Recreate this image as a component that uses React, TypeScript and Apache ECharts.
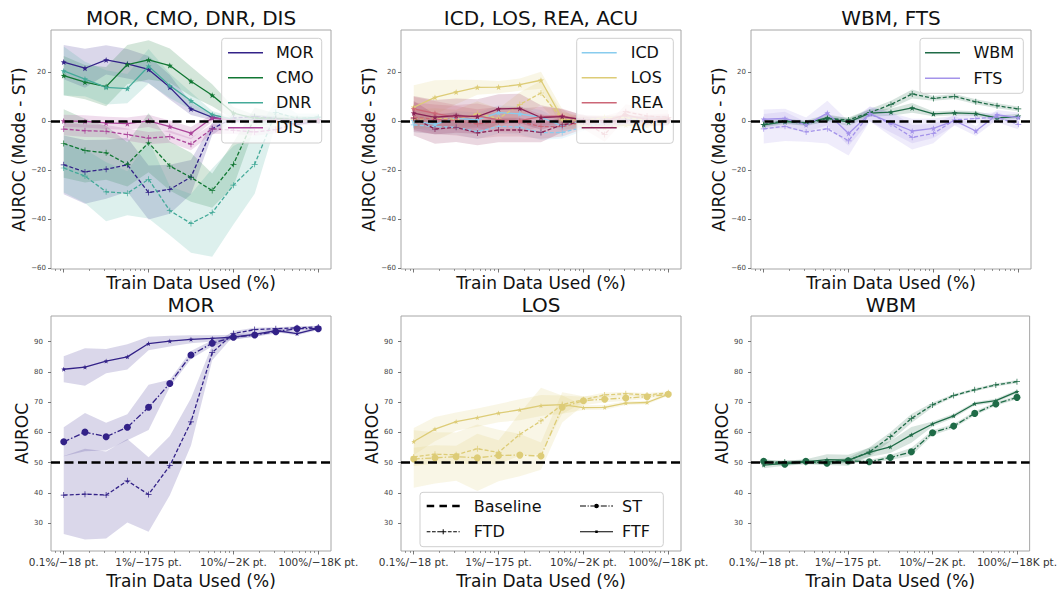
import { useEffect, useRef } from "react";
import * as echarts from "echarts";

// ---------- data ----------
const trainPct = [0.1, 0.178, 0.316, 0.562, 1, 1.78, 3.16, 5.62, 10, 17.8, 31.6, 56.2, 100];
const majorTickPct = [0.1, 1, 10, 100];
const majorTickLabels = ["0.1%/−18 pt.", "1%/−175 pt.", "10%/−2K pt.", "100%/−18K pt."];
const minorTickPct = [0.08, 0.09, 0.2, 0.3, 0.4, 0.5, 0.6, 0.7, 0.8, 0.9, 2, 3, 4, 5, 6, 7, 8, 9, 20, 30, 40, 50, 60, 70, 80, 90];
const diffTicks = [-60, -40, -20, 0, 20];
const aurocTicks = [30, 40, 50, 60, 70, 80, 90];

// top row: AUROC difference (Mode - ST), FTF = solid, FTD = dashed
const morFtfDiff = [24.0, 21.5, 24.9, 23.3, 21.0, 13.7, 4.9, 1.5, 0.0, 0.3, 0.4, -1.5, 0.1];
const morFtfDiffErr = [7, 8, 6, 6, 5.5, 5, 2.5, 1.2, 0.8, 0.8, 0.8, 0.8, 0.6];
const morFtdDiff = [-17.9, -20.8, -19.7, -17.9, -29.2, -27.9, -22.9, -3.2, 1.2, 1.8, 1.0, 0.3, 0.6];
const morFtdDiffErr = [12, 13, 12, 11, 11, 10, 7, 2.5, 1, 0.8, 0.8, 0.6, 0.6];
const cmoFtfDiff = [18.5, 15.8, 14.0, 23.0, 24.9, 22.6, 16.2, 10.5, 3.2, 1.0, 0.5, 0.5, 0.3];
const cmoFtfDiffErr = [8, 7, 8, 8, 8, 7, 6, 4.5, 2.5, 1.5, 1, 1, 1];
const cmoFtdDiff = [-9.2, -12.1, -13.0, -17.7, -8.9, -18.4, -23.0, -28.4, -17.7, 1.5, 1.0, 0.5, 0.5];
const cmoFtdDiffErr = [14, 13, 11, 9, 12, 10, 10, 7, 9, 4, 2, 1.5, 1];
const dnrFtfDiff = [20.4, 17.1, 13.7, 13.2, 22.3, 14.4, 8.2, 2.6, 0.5, 0.5, 0.3, 0.5, 1.5];
const dnrFtfDiffErr = [10, 7, 7, 6, 7, 5, 3.5, 1.5, 1, 1, 1, 1, 1];
const dnrFtdDiff = [-19.2, -22.5, -28.9, -29.5, -23.8, -36.6, -41.8, -37.4, -26.2, -17.7, 3.5, 1.0, 1.5];
const dnrFtdDiffErr = [10, 11, 12, 9, 16, 10, 12, 18, 16, 12, 5, 2, 1.5];
const disFtfDiff = [0, -0.2, -0.8, -1.1, 0, -2.3, -5.0, 1.2, 0.3, 0.2, 0.3, 0.3, 0.4];
const disFtfDiffErr = [2.5, 2.5, 2.5, 2.5, 2.5, 2.5, 2.5, 1.5, 1, 1, 1, 1, 1];
const disFtdDiff = [-3.3, -4.0, -4.2, -5.6, -7.0, -6.4, -9.5, -3.2, -3.8, -4.5, -3.5, -1.0, 0.0];
const disFtdDiffErr = [2.5, 2.5, 2.5, 2.5, 2.5, 2.5, 2.5, 2, 1.5, 1.5, 1.5, 1, 1];

const icdFtfDiff = [0, -1.4, 1.1, 0.4, 3.4, 2.9, 1.5, -2.0, 0.0, -0.3, 0.3, 0.2, 0.0];
const icdFtfDiffErr = [3, 3, 3, 3, 3, 3, 3, 2, 1.5, 1.5, 1.5, 1.5, 1.5];
const icdFtdDiff = [-1.6, -2.3, -2.6, -4.4, -2.2, -2.5, -4.8, -4.7, -2.6, -0.5, 0.2, 0.0, -0.3];
const icdFtdDiffErr = [3, 3, 3, 3, 3, 3, 3, 2.5, 1.5, 1.5, 1.5, 1.5, 1.5];
const losFtfDiff = [5.6, 9.6, 11.8, 13.7, 13.8, 14.8, 16.6, 0.9, -2.3, -2.7, -1.7, -2.0, 0.1];
const losFtfDiffErr = [9, 7, 5, 3, 2.5, 2.5, 3.5, 4, 1.5, 1, 1, 1, 0.8];
const losFtdDiff = [0.7, 1.2, 0.6, 3.0, 1.0, 6.7, 11.4, 0.6, 0.3, 1.4, 1.3, 0.3, 0.4];
const losFtdDiffErr = [4, 4, 4, 5, 4, 5, 5, 3, 1.5, 1, 1, 1, 0.8];
const reaFtfDiff = [4.9, 3.1, 1.5, 2.1, 0.4, 0.1, 1.8, 2.1, 0.1, 0.0, 2.5, 0.5, 1.0];
const reaFtfDiffErr = [5, 5, 5, 5, 5, 5, 4, 3, 2, 2, 2, 2, 2];
const reaFtdDiff = [1.5, 0.7, 0.1, -1.2, -0.3, -0.3, -2.3, -2.3, -0.3, -5.5, 3.8, 2.0, 1.5];
const reaFtdDiffErr = [6, 6, 6, 6, 6, 6, 5, 4, 3, 3, 3, 3, 3];
const acuFtfDiff = [3.2, 1.5, 2.2, 1.8, 4.9, 5.1, 1.4, 1.8, 0.4, 0.0, 0.2, 0.0, 0.3];
const acuFtfDiffErr = [7, 7, 7, 7, 6, 6, 5, 3, 2, 2, 2, 2, 2];
const acuFtdDiff = [1.1, -3.3, -2.6, -4.9, -3.7, -3.7, -4.7, -1.6, -0.3, -0.5, 0.0, -0.3, 0.0];
const acuFtdDiffErr = [7, 6, 6, 5, 5, 5, 4, 3, 2, 2, 2, 2, 2];

const wbmFtfDiff = [-1.6, -0.3, -0.7, 1.2, -0.5, 3.2, 3.6, 5.3, 2.9, 3.3, 3.0, 1.2, 1.9];
const wbmFtfDiffErr = [1, 1, 1, 1.5, 1.5, 1.5, 1.5, 2, 1, 1, 1, 1, 1];
const wbmFtdDiff = [-1.4, 0.1, -1.2, 1.0, 0.4, 3.4, 6.7, 11.0, 9.2, 10.0, 7.8, 6.2, 4.9];
const wbmFtdDiffErr = [1, 1, 1, 1, 1, 1.5, 1.5, 1.8, 1, 1, 1, 1, 1];
const ftsFtfDiff = [0.7, 1.0, -1.6, 3.2, -5.1, 2.9, -0.7, -4.1, -3.0, 0.1, -4.1, 2.5, 1.4];
const ftsFtfDiffErr = [4, 4, 3, 5, 5, 3, 4, 5, 4, 2, 2, 2, 2];
const ftsFtdDiff = [-3.2, -2.2, -4.5, -3.2, -8.1, 2.9, -1.2, -6.7, -5.1, 0.4, 1.0, 1.5, -1.4];
const ftsFtdDiffErr = [6, 6, 4, 6, 6, 3, 5, 5, 4, 2, 2, 2, 2];

// bottom row: AUROC
const morSt = [56.9, 60.1, 58.6, 61.7, 68.3, 76.2, 85.6, 89.5, 91.5, 92.2, 93.3, 94.3, 94.3];
const morStErr = [4.8, 6.3, 4.6, 4.3, 7.5, 1.2, 1.3, 1, 0.7, 0.6, 0.6, 0.5, 0.5];
const morFtf = [80.9, 81.6, 83.6, 85.0, 89.4, 90.2, 90.8, 91.1, 91.5, 92.4, 93.7, 92.7, 94.4];
const morFtfErr = [4.3, 6.2, 4, 4.2, 2.2, 1.8, 1.3, 1, 0.8, 0.8, 0.6, 0.6, 0.5];
const morFtd = [39.3, 39.6, 39.3, 44.0, 39.5, 49.0, 63.5, 86.4, 92.7, 94.0, 94.3, 94.6, 94.9];
const morFtdErr = [12.9, 15, 14.4, 13.8, 12.3, 9.8, 7.8, 2.5, 0.8, 0.6, 0.5, 0.5, 0.4];

const losSt = [51.2, 51.6, 52.0, 51.6, 52.4, 52.5, 52.2, 68.3, 70.5, 71.0, 71.4, 71.8, 72.6];
const losStErr = [9.5, 8.5, 8, 11, 8.5, 7, 4.5, 5, 1.5, 1, 1, 0.7, 0.5];
const losFtf = [57.0, 61.1, 63.6, 64.9, 66.4, 67.5, 68.9, 69.2, 68.2, 68.3, 69.7, 69.9, 72.6];
const losFtfErr = [4.5, 4, 3, 3, 3, 3.5, 3.5, 3, 0.8, 0.8, 0.6, 0.6, 0.5];
const losFtd = [51.9, 52.8, 52.6, 54.6, 53.4, 59.4, 63.8, 69.2, 70.8, 72.4, 72.8, 72.4, 73.1];
const losFtdErr = [3, 3, 3, 5, 4, 7, 11, 3, 1, 0.8, 0.6, 0.6, 0.5];

const wbmSt = [50.5, 49.5, 50.5, 49.8, 50.6, 50.3, 51.7, 53.6, 59.9, 62.1, 66.3, 69.4, 71.6];
const wbmStErr = [0.8, 0.6, 0.6, 0.6, 0.6, 0.6, 0.8, 1.3, 0.8, 0.7, 0.7, 0.6, 0.6];
const wbmFtf = [49.2, 49.8, 50.3, 51.0, 50.8, 53.4, 55.2, 59.2, 62.8, 65.5, 69.5, 70.5, 73.5];
const wbmFtfErr = [1, 0.8, 0.8, 1.8, 1.8, 1.5, 2, 2.6, 0.8, 0.7, 0.6, 0.6, 0.6];
const wbmFtd = [50.1, 50.2, 50.1, 50.2, 50.8, 53.5, 58.6, 64.6, 69.1, 72.2, 74.1, 75.7, 76.8];
const wbmFtdErr = [0.8, 0.6, 0.6, 0.6, 0.8, 1.5, 1.5, 1.5, 0.8, 0.5, 0.5, 0.5, 0.5];

const taskColors: Record<string, string> = {
  MOR: "#332288", CMO: "#117733", DNR: "#44AA99", DIS: "#AA4499",
  ICD: "#88CCEE", LOS: "#DDCC77", REA: "#CC6677", ACU: "#882255",
  WBM: "#1F6B47", FTS: "#A493EA",
};

const topPanels = [
  { title: "MOR, CMO, DNR, DIS", tasks: [
    { name: "MOR", ftf: morFtfDiff, ftfErr: morFtfDiffErr, ftd: morFtdDiff, ftdErr: morFtdDiffErr },
    { name: "CMO", ftf: cmoFtfDiff, ftfErr: cmoFtfDiffErr, ftd: cmoFtdDiff, ftdErr: cmoFtdDiffErr },
    { name: "DNR", ftf: dnrFtfDiff, ftfErr: dnrFtfDiffErr, ftd: dnrFtdDiff, ftdErr: dnrFtdDiffErr },
    { name: "DIS", ftf: disFtfDiff, ftfErr: disFtfDiffErr, ftd: disFtdDiff, ftdErr: disFtdDiffErr },
  ] },
  { title: "ICD, LOS, REA, ACU", tasks: [
    { name: "ICD", ftf: icdFtfDiff, ftfErr: icdFtfDiffErr, ftd: icdFtdDiff, ftdErr: icdFtdDiffErr },
    { name: "LOS", ftf: losFtfDiff, ftfErr: losFtfDiffErr, ftd: losFtdDiff, ftdErr: losFtdDiffErr },
    { name: "REA", ftf: reaFtfDiff, ftfErr: reaFtfDiffErr, ftd: reaFtdDiff, ftdErr: reaFtdDiffErr },
    { name: "ACU", ftf: acuFtfDiff, ftfErr: acuFtfDiffErr, ftd: acuFtdDiff, ftdErr: acuFtdDiffErr },
  ] },
  { title: "WBM, FTS", tasks: [
    { name: "WBM", ftf: wbmFtfDiff, ftfErr: wbmFtfDiffErr, ftd: wbmFtdDiff, ftdErr: wbmFtdDiffErr },
    { name: "FTS", ftf: ftsFtfDiff, ftfErr: ftsFtfDiffErr, ftd: ftsFtdDiff, ftdErr: ftsFtdDiffErr },
  ] },
];

const bottomPanels = [
  { title: "MOR", st: morSt, stErr: morStErr, ftd: morFtd, ftdErr: morFtdErr, ftf: morFtf, ftfErr: morFtfErr },
  { title: "LOS", st: losSt, stErr: losStErr, ftd: losFtd, ftdErr: losFtdErr, ftf: losFtf, ftfErr: losFtfErr },
  { title: "WBM", st: wbmSt, stErr: wbmStErr, ftd: wbmFtd, ftdErr: wbmFtdErr, ftf: wbmFtf, ftfErr: wbmFtfErr },
];

// ---------- styling ----------
const FONT = "DejaVu Sans";
const STAR = "path://M0,-10L2.35,-3.24L9.51,-3.09L3.8,1.24L5.88,8.09L0,4L-5.88,8.09L-3.8,1.24L-9.51,-3.09L-2.35,-3.24Z";
const PLUS = "path://M-1.2,-10H1.2V-1.2H10V1.2H1.2V10H-1.2V1.2H-10V-1.2H-1.2Z";
const DASH = [4, 2];
const DASHDOT = [6, 2, 1.5, 2];
const BASE_DASH = [9, 4.5];
const X_MIN = -1.15;
const X_MAX = 2.15;
const GRID_LEFT = [51, 401, 751];
const GRID_W = 280;
const TOP_Y = 30, TOP_H = 239;
const BOT_Y = 316, BOT_H = 240;

// legend icon paths (drawn in a w x h box)
function iconPath(w: number, h: number, thick: number, pattern: number[] | null, marker: string | null, mSize = 5) {
  const cy = h / 2;
  const y0 = cy - thick / 2, y1 = cy + thick / 2;
  const parts: string[] = [`M0,0H0.01V${h}H0Z`];
  const rect = (a: number, b: number, c: number, d: number) => `M${a},${c}H${b}V${d}H${a}Z`;
  if (!pattern) {
    parts.push(rect(0, w, y0, y1));
  } else {
    let x = 0, k = 0;
    while (x < w) {
      const len = pattern[k % pattern.length];
      if (k % 2 === 0) parts.push(rect(x, Math.min(w, x + len), y0, y1));
      x += len;
      k++;
    }
  }
  const cx = w / 2;
  const r = mSize / 2;
  if (marker === "circle") {
    parts.push(`M${cx - r},${cy}A${r},${r} 0 1 1 ${cx + r},${cy}A${r},${r} 0 1 1 ${cx - r},${cy}Z`);
  } else if (marker === "plus") {
    parts.push(rect(cx - 0.5, cx + 0.5, cy - r, cy + r));
    parts.push(rect(cx - r, cx + r, cy - 0.5, cy + 0.5));
  } else if (marker === "dot") {
    parts.push(rect(cx - r, cx + r, cy - r, cy + r));
  }
  return "path://" + parts.join(" ");
}

function band(gi: number, vals: number[], errs: number[], color: string, alpha: number) {
  const pts = trainPct.map((p, i) => [Math.log10(p), vals[i] - errs[i], vals[i] + errs[i]]);
  return {
    type: "custom",
    xAxisIndex: gi,
    yAxisIndex: gi,
    silent: true,
    clip: true,
    z: 1,
    data: pts,
    encode: { x: 0, y: [1, 2] },
    renderItem: (params: any, api: any) => {
      if (params.dataIndex !== 0) return null;
      const upper = pts.map((d) => api.coord([d[0], d[2]]));
      const lower = pts.map((d) => api.coord([d[0], d[1]])).reverse();
      return {
        type: "polygon",
        shape: { points: upper.concat(lower) },
        style: { fill: color, opacity: alpha },
        silent: true,
      };
    },
  };
}

function line(gi: number, name: string, vals: number[], color: string, type: any, symbol: string, size: number, width = 1.3) {
  return {
    type: "line",
    name,
    xAxisIndex: gi,
    yAxisIndex: gi,
    data: trainPct.map((p, i) => [Math.log10(p), vals[i]]),
    symbol,
    symbolSize: size,
    showSymbol: true,
    lineStyle: { color, width, type },
    itemStyle: { color },
    silent: true,
    z: 3,
  };
}

function baseLine(value: number) {
  return {
    silent: true,
    symbol: ["none", "none"],
    label: { show: false },
    lineStyle: { color: "#000", type: BASE_DASH, width: 2.5 },
    data: [{ yAxis: value }],
  };
}

function buildOption() {
  const grids: any[] = [];
  const xAxes: any[] = [];
  const minorAxes: any[] = [];
  const yAxes: any[] = [];
  const titles: any[] = [];
  const series: any[] = [];

  for (let gi = 0; gi < 6; gi++) {
    const top = gi < 3;
    const col = gi % 3;
    grids.push({
      left: GRID_LEFT[col],
      top: top ? TOP_Y : BOT_Y,
      width: GRID_W,
      height: top ? TOP_H : BOT_H,
      show: true,
      borderColor: "#a6a6a6",
      borderWidth: 1,
      backgroundColor: "transparent",
      containLabel: false,
    });
    xAxes.push({
      type: "value",
      gridIndex: gi,
      min: X_MIN,
      max: X_MAX,
      position: "bottom",
      axisLine: { show: false, onZero: false },
      splitLine: { show: false },
      axisTick: {
        show: true,
        length: 3.5,
        customValues: majorTickPct.map((p) => Math.log10(p)),
        lineStyle: { color: "#555", width: 0.8 },
      },
      axisLabel: {
        show: !top,
        customValues: majorTickPct.map((p) => Math.log10(p)),
        formatter: (v: number) => {
          const idx = majorTickPct.findIndex((p) => Math.abs(Math.log10(p) - v) < 1e-6);
          return idx >= 0 ? majorTickLabels[idx] : "";
        },
        fontSize: 10.5,
        fontFamily: FONT,
        color: "#333",
        margin: 5,
      },
      name: "Train Data Used (%)",
      nameLocation: "middle",
      nameGap: top ? 5 : 21,
      nameTextStyle: { fontSize: 17, fontFamily: FONT, color: "#111", verticalAlign: "top" },
    });
    minorAxes.push({
      type: "value",
      gridIndex: gi,
      min: X_MIN,
      max: X_MAX,
      position: "bottom",
      axisLine: { show: false, onZero: false },
      splitLine: { show: false },
      axisLabel: { show: false },
      axisTick: {
        show: true,
        length: 2,
        customValues: minorTickPct.map((p) => Math.log10(p)),
        lineStyle: { color: "#555", width: 0.6 },
      },
    });
    const ticks = top ? diffTicks : aurocTicks;
    yAxes.push({
      type: "value",
      gridIndex: gi,
      min: top ? -60.4 : 20.8,
      max: top ? 37.1 : 98.5,
      axisLine: { show: false, onZero: false },
      splitLine: { show: false },
      axisTick: { show: true, length: 3, customValues: ticks, lineStyle: { color: "#555", width: 0.8 } },
      axisLabel: {
        customValues: ticks,
        formatter: (v: number) => String(v).replace("-", "−"),
        fontSize: 7,
        fontFamily: FONT,
        color: "#444",
        margin: top ? 5 : 8,
      },
      name: top ? "AUROC (Mode - ST)" : "AUROC",
      nameLocation: "middle",
      nameRotate: 90,
      nameGap: top ? 24 : 13,
      nameTextStyle: { fontSize: 17, fontFamily: FONT, color: "#111" },
    });
  }

  // top row
  topPanels.forEach((panel, gi) => {
    titles.push({
      text: panel.title,
      left: GRID_LEFT[gi] + GRID_W / 2,
      top: 8,
      textAlign: "center",
      padding: 0,
      textStyle: { fontSize: 20, fontWeight: "normal", fontFamily: FONT, color: "#111" },
    });
    panel.tasks.forEach((t) => {
      const c = taskColors[t.name];
      series.push(band(gi, t.ftf, t.ftfErr, c, 0.18));
      series.push(band(gi, t.ftd, t.ftdErr, c, 0.18));
    });
    panel.tasks.forEach((t, k) => {
      const c = taskColors[t.name];
      const s1: any = line(gi, t.name + "-FTF", t.ftf, c, "solid", STAR, 6);
      const s2: any = line(gi, t.name + "-FTD", t.ftd, c, DASH, PLUS, 6);
      if (k === panel.tasks.length - 1) s2.markLine = baseLine(0);
      series.push(s1, s2);
      // legend entry
      series.push({
        type: "line", name: t.name, xAxisIndex: gi, yAxisIndex: gi, data: [],
        symbol: "none", lineStyle: { color: c, width: 1.5 }, itemStyle: { color: c },
      });
    });
  });

  // bottom row
  bottomPanels.forEach((panel, k) => {
    const gi = k + 3;
    const c = taskColors[panel.title];
    titles.push({
      text: panel.title,
      left: GRID_LEFT[k] + GRID_W / 2,
      top: 295,
      textAlign: "center",
      padding: 0,
      textStyle: { fontSize: 20, fontWeight: "normal", fontFamily: FONT, color: "#111" },
    });
    series.push(band(gi, panel.st, panel.stErr, c, 0.18));
    series.push(band(gi, panel.ftd, panel.ftdErr, c, 0.18));
    series.push(band(gi, panel.ftf, panel.ftfErr, c, 0.18));
    const st: any = line(gi, panel.title + "-ST", panel.st, c, DASHDOT, "circle", 7);
    const ftd: any = line(gi, panel.title + "-FTD", panel.ftd, c, DASH, PLUS, 6);
    const ftf: any = line(gi, panel.title + "-FTF", panel.ftf, c, "solid", STAR, 5);
    ftf.markLine = baseLine(50);
    series.push(st, ftd, ftf);
  });

  // bottom legend entries (black)
  ["Baseline", "FTD", "ST", "FTF"].forEach((n) => {
    series.push({
      type: "line", name: n, xAxisIndex: 4, yAxisIndex: 4, data: [],
      symbol: "none", lineStyle: { color: "#000" }, itemStyle: { color: "#000" },
    });
  });

  const topIcon = iconPath(35, 6, 1.5, null, null);
  const legendBase = (items: any[], left: number, top: number, iconW: number, textGap: number, gap: number) => ({
    data: items,
    left,
    top,
    orient: "vertical",
    itemWidth: iconW,
    itemHeight: 6,
    itemGap: gap,
    padding: 0,
    selectedMode: false,
    z: 6,
    itemStyle: { borderWidth: 0 },
    textStyle: { fontSize: 16, fontFamily: FONT, color: "#111", lineHeight: 18, padding: [0, 0, 0, textGap] },
  });
  const named = (names: string[], icon: string) => names.map((n) => ({ name: n, icon }));

  const legends = [
    legendBase(named(["MOR", "CMO", "DNR", "DIS"], topIcon), 228, 43.7, 35, 8, 7),
    legendBase(named(["ICD", "LOS", "REA", "ACU"], topIcon), 581.7, 43.7, 35, 9, 7),
    legendBase(named(["WBM", "FTS"], topIcon), 925, 43.7, 36, 8, 7.6),
    legendBase([
      { name: "Baseline", icon: iconPath(33, 6, 2.6, [7.5, 5.25], null) },
      { name: "FTD", icon: iconPath(33, 6, 1, [3.7, 1.6], "plus", 5) },
    ], 426.7, 497, 33, 9, 7.7),
    legendBase([
      { name: "ST", icon: iconPath(33, 6, 1, [6, 1.6, 1.2, 1.6], "circle", 4.5) },
      { name: "FTF", icon: iconPath(33, 6, 1, null, "dot", 2.5) },
    ], 580, 497, 33, 4, 7.7),
  ];

  const box = (x: number, y: number, w: number, h: number) => ({
    type: "rect",
    z: 5,
    silent: true,
    shape: { x, y, width: w, height: h, r: 3 },
    style: { fill: "rgba(255,255,255,0.8)", stroke: "#cfcfcf", lineWidth: 1 },
  });

  return {
    animation: false,
    textStyle: { fontFamily: FONT },
    title: titles,
    grid: grids,
    xAxis: [...xAxes, ...minorAxes],
    yAxis: yAxes,
    legend: legends,
    graphic: [
      box(221.7, 38.3, 100, 104.7),
      box(576.7, 38.3, 96.6, 105),
      box(920, 38.3, 103.3, 55),
      box(420, 492.3, 243.3, 54.4),
    ],
    series,
  };
}

export default function App() {
  const ref = useRef<HTMLDivElement>(null);
  useEffect(() => {
    if (!ref.current) return;
    const chart = echarts.init(ref.current, null, { renderer: "svg" });
    chart.setOption(buildOption() as any);
    return () => chart.dispose();
  }, []);
  return (
    <div
      ref={ref}
      style={{ position: "fixed", left: 0, top: 0, width: 1060, height: 590, background: "#fff" }}
    />
  );
}
